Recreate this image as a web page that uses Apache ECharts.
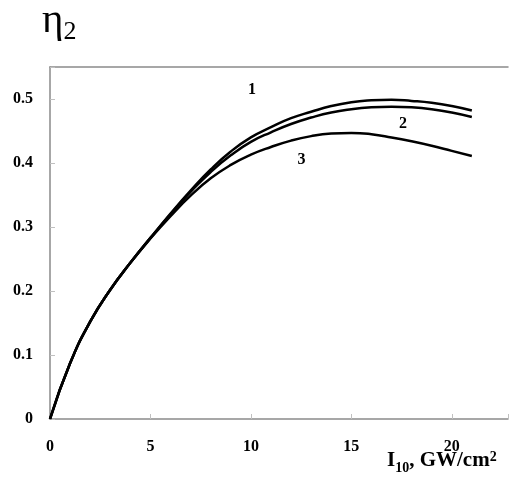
<!DOCTYPE html>
<html>
<head>
<meta charset="utf-8">
<script src="https://cdn.jsdelivr.net/npm/echarts@6/dist/echarts.min.js"></script>
<style>html,body{margin:0;padding:0;background:#fff;}#c{width:511px;height:479px;}</style>
</head>
<body>
<div id="c"></div>
<script>
const xValues = [0, 1, 2, 3, 4, 5, 6, 7, 8, 9, 10, 11, 12, 13, 14, 15, 16, 17, 18, 19, 20, 21];
const curve1 = [0, 0.087, 0.152, 0.202, 0.244, 0.283, 0.321, 0.357, 0.390, 0.418, 0.440, 0.456, 0.470, 0.480, 0.489, 0.495, 0.498, 0.499, 0.497, 0.494, 0.489, 0.482];
const curve2 = [0, 0.087, 0.152, 0.202, 0.244, 0.283, 0.320, 0.355, 0.386, 0.412, 0.433, 0.448, 0.461, 0.471, 0.479, 0.484, 0.487, 0.488, 0.487, 0.484, 0.479, 0.472];
const curve3 = [0, 0.087, 0.152, 0.202, 0.244, 0.282, 0.317, 0.349, 0.376, 0.397, 0.413, 0.425, 0.435, 0.442, 0.446, 0.447, 0.445, 0.440, 0.434, 0.427, 0.419, 0.411];
const curveNames = ['1', '2', '3'];
const curveLabelPos = [[10.05, 0.515], [17.57, 0.461], [12.52, 0.405]];
const xTicks = [0, 5, 10, 15, 20];
const yTicks = [0, 0.1, 0.2, 0.3, 0.4, 0.5];

const serif = '"Liberation Serif", "DejaVu Serif", serif';
const chart = echarts.init(document.getElementById('c'), null, {renderer: 'canvas'});
const series = [curve1, curve2, curve3].map((arr, i) => ({
  type: 'line',
  name: curveNames[i],
  data: xValues.map((x, j) => [x, arr[j]]),
  smooth: 0.5,
  showSymbol: false,
  lineStyle: {color: '#000', width: 2.5},
  z: 3,
  markPoint: {
    symbol: 'circle', symbolSize: 1,
    itemStyle: {color: 'rgba(0,0,0,0)'},
    label: {show: true, position: 'inside', formatter: curveNames[i], color: '#000',
      fontFamily: serif, fontWeight: 'bold', fontSize: 16},
    data: [{coord: curveLabelPos[i]}]
  }
}));
chart.setOption({
  animation: false,
  backgroundColor: '#fff',
  grid: {left: 50, top: 67, right: 0, bottom: 60},
  xAxis: [{
    type: 'value', min: 0, max: 22.8, interval: 5,
    axisLine: {show: true, lineStyle: {color: '#8a8a8a', width: 1.5}},
    axisTick: {show: true, inside: true, length: 5, lineStyle: {color: '#c0c0c0'}},
    splitLine: {show: false},
    axisLabel: {margin: 20, color: '#000', fontFamily: serif, fontWeight: 'bold', fontSize: 16,
      formatter: v => xTicks.includes(v) ? String(v) : ''},
  }, {
    type: 'value', position: 'top', min: 0, max: 22.8,
    axisLine: {show: true, onZero: false, lineStyle: {color: '#8a8a8a', width: 1.5}},
    axisTick: {show: false}, axisLabel: {show: false}, splitLine: {show: false}
  }],
  yAxis: {
    type: 'value', min: 0, max: 0.55, interval: 0.1,
    axisLine: {show: true, lineStyle: {color: '#8a8a8a', width: 1.5}},
    axisTick: {show: true, inside: true, length: 5, lineStyle: {color: '#c0c0c0'}},
    splitLine: {show: false},
    axisLabel: {margin: 17, color: '#000', fontFamily: serif, fontWeight: 'bold', fontSize: 16,
      formatter: v => { const t = yTicks.find(t => Math.abs(t - v) < 1e-9); return t === undefined ? '' : String(t); }},
  },
  graphic: [
    {type: 'text', left: 42, top: 1, style: {
      text: '{a|η}{s|2}', rich: {
        a: {fontFamily: serif, fontSize: 41, fill: '#000', verticalAlign: 'bottom'},
        s: {fontFamily: serif, fontSize: 26, fill: '#000', verticalAlign: 'bottom', padding: [0,0,-3,0]}
      }}},
    {type: 'text', left: 387, top: 450, style: {
      text: '{a|I}{s|10}{a|, GW/cm}{p|2}', rich: {
        a: {fontFamily: serif, fontSize: 21, fontWeight: 'bold', fill: '#000', verticalAlign: 'bottom'},
        s: {fontFamily: serif, fontSize: 14, fontWeight: 'bold', fill: '#000', verticalAlign: 'bottom', padding: [0,0,-4,0]},
        p: {fontFamily: serif, fontSize: 14, fontWeight: 'bold', fill: '#000', verticalAlign: 'top', padding: [0,0,7,0]}
      }}}
  ],
  series: series
});
</script>
</body>
</html>
